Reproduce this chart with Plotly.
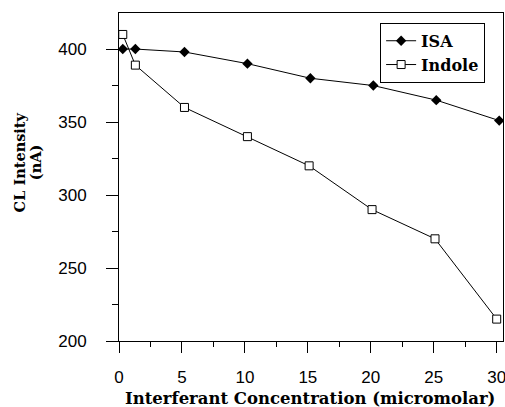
import plotly.graph_objects as go

# Data
x_isa = [0.3, 1.3, 5.2, 10.2, 15.2, 20.2, 25.2, 30.2]
isa = [400, 400, 398, 390, 380, 375, 365, 351]
x_indole = [0.3, 1.3, 5.2, 10.2, 15.1, 20.1, 25.1, 30.0]
indole = [410, 389, 360, 340, 320, 290, 270, 215]

x_ticks = [0, 5, 10, 15, 20, 25, 30]
y_ticks = [200, 250, 300, 350, 400]

serif_bold = dict(family="DejaVu Serif", color="black")
sans = dict(family="Liberation Sans, Arial", color="black", size=17)

fig = go.Figure()
fig.add_trace(go.Scatter(
    x=x_isa, y=isa, name="ISA", mode="lines+markers",
    line=dict(color="black", width=1),
    marker=dict(symbol="diamond", size=8, color="black"),
))
fig.add_trace(go.Scatter(
    x=x_indole, y=indole, name="Indole", mode="lines+markers",
    line=dict(color="black", width=1),
    marker=dict(symbol="square", size=8, color="white",
                line=dict(color="black", width=1)),
))

axis_common = dict(
    showgrid=False, zeroline=False, showline=True, mirror=True,
    linecolor="black", linewidth=1, ticks="outside", tickcolor="black",
    tickfont=sans, automargin=False, ticklabeloverflow="allow",
)

fig.update_xaxes(
    range=[0, 30.5], tickvals=x_ticks, ticklen=11, tickwidth=1,
    ticklabelstandoff=10,
    minor=dict(ticks="outside", dtick=2.5, tick0=0, ticklen=5,
               tickcolor="black", tickwidth=1),
    **axis_common,
)
fig.update_yaxes(
    range=[200, 424.7], tickvals=y_ticks, ticklen=12, tickwidth=1,
    ticklabelstandoff=16,
    minor=dict(ticks="outside", dtick=25, tick0=200, ticklen=6,
               tickcolor="black", tickwidth=1),
    **axis_common,
)

fig.update_layout(
    width=505, height=407,
    margin=dict(l=119, r=2, t=13, b=66),
    paper_bgcolor="white", plot_bgcolor="white",
    showlegend=True,
    legend=dict(
        x=0.68, y=0.97, xanchor="left", yanchor="top",
        bordercolor="black", borderwidth=1, bgcolor="white",
        font=dict(family="DejaVu Serif", size=16, color="black", weight="bold"),
        tracegroupgap=0,
    ),
    annotations=[
        dict(text="Interferant Concentration (micromolar)",
             xref="paper", yref="paper", x=0.497, y=-0.174,
             xanchor="center", yanchor="middle", showarrow=False,
             font=dict(size=16.5, weight="bold", **serif_bold)),
        dict(text="CL Intensity",
             xref="paper", yref="paper", x=-0.26, y=0.545,
             xanchor="center", yanchor="middle", showarrow=False,
             textangle=-90,
             font=dict(size=14.5, weight="bold", **serif_bold)),
        dict(text="(nA)",
             xref="paper", yref="paper", x=-0.219, y=0.545,
             xanchor="center", yanchor="middle", showarrow=False,
             textangle=-90,
             font=dict(size=14.5, weight="bold", **serif_bold)),
    ],
)

fig.write_html(
    "out.html",
    config={"displayModeBar": False},
    post_script="document.body.style.margin='0';"
                "document.body.style.overflow='hidden';",
)
